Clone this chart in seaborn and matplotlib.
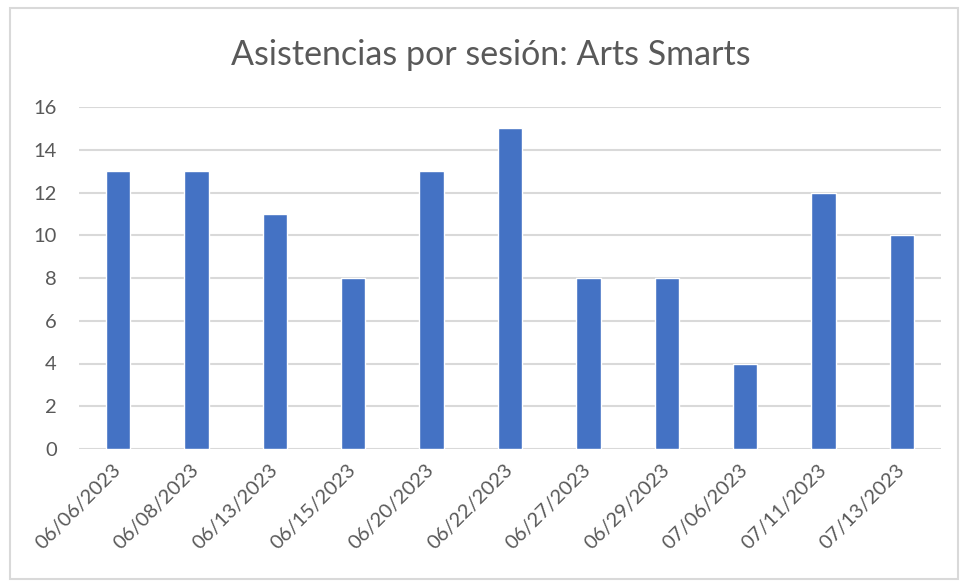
import pandas as pd
import seaborn as sns
import matplotlib.pyplot as plt
from matplotlib.patches import Rectangle

# Datos
fechas = ["06/06/2023", "06/08/2023", "06/13/2023", "06/15/2023", "06/20/2023",
          "06/22/2023", "06/27/2023", "06/29/2023", "07/06/2023", "07/11/2023",
          "07/13/2023"]
asistencias = [13, 13, 11, 8, 13, 15, 8, 8, 4, 12, 10]

df = pd.DataFrame({"Fecha": fechas, "Asistencias": asistencias})

sns.set_style("white")
plt.rcParams["font.family"] = ["Lato", "DejaVu Sans"]

gris_texto = "#595959"
gris_linea = "#d9d9d9"

fig = plt.figure(figsize=(9.6, 5.81), dpi=100)
ax = fig.add_axes([79 / 960, 1 - 449 / 581, (941 - 79) / 960, (449 - 107) / 581])

sns.barplot(data=df, x="Fecha", y="Asistencias", color="#4472c4",
            saturation=1, width=0.31, ax=ax, zorder=3)

ax.set_ylim(0, 16)
ax.set_yticks(range(0, 17, 2))
ax.set_xlim(-0.5, len(fechas) - 0.5)
ax.yaxis.grid(True, color=gris_linea, linewidth=1.5, zorder=0)
ax.set_axisbelow(True)
for s in ax.spines.values():
    s.set_visible(False)
ax.set_xlabel("")
ax.set_ylabel("")
ax.tick_params(axis="y", length=0, pad=16, labelsize=14.5, labelcolor=gris_texto)
ax.tick_params(axis="x", length=0, pad=13, labelsize=14.5, labelcolor=gris_texto)
plt.setp(ax.get_xticklabels(), rotation=45, ha="right", va="center",
         rotation_mode="anchor")

fig.text(491 / 960, 1 - 55 / 581, "Asistencias por sesión: Arts Smarts",
         ha="center", va="center", fontsize=24.5, color=gris_texto)

# Marco del gráfico
fig.patches.append(Rectangle((10 / 960, 1 - 579 / 581), 948 / 960, 571 / 581,
                             transform=fig.transFigure, fill=False,
                             edgecolor=gris_linea, linewidth=1.5))

fig.savefig("out.png", dpi=100, facecolor="white")
